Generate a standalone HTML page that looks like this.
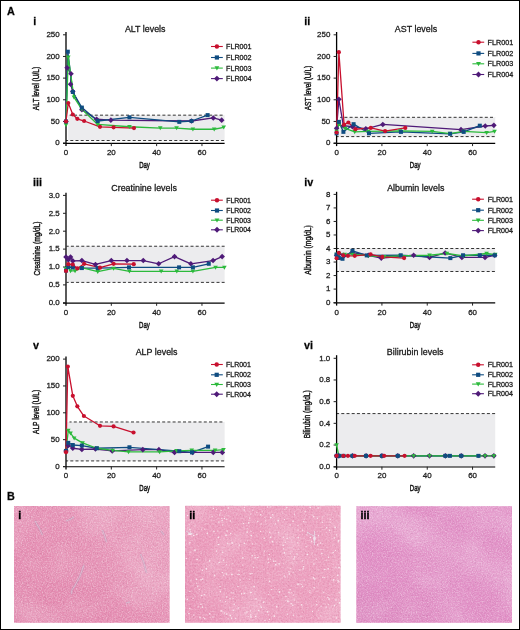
<!DOCTYPE html>
<html><head><meta charset="utf-8"><style>
html,body{margin:0;padding:0;background:#fff;overflow:hidden;width:520px;height:630px;}
svg{display:block;font-family:"Liberation Sans", sans-serif;will-change:transform;}
text{stroke:#222;stroke-width:0.28px;}
</style></head><body>
<svg width="520" height="630" viewBox="0 0 520 630">
<defs><filter id="sp0" x="0" y="0" width="1" height="1" color-interpolation-filters="sRGB"><feTurbulence type="fractalNoise" baseFrequency="0.8" numOctaves="2" seed="3" result="t"/><feColorMatrix in="t" type="matrix" values="0 0 0 0 1  0 0 0 0 1  0 0 0 0 1  2.2 0 0 0 -0.95"/><feGaussianBlur stdDeviation="0.45"/></filter><filter id="sp1" x="0" y="0" width="1" height="1" color-interpolation-filters="sRGB"><feTurbulence type="fractalNoise" baseFrequency="0.55" numOctaves="2" seed="5" result="t"/><feColorMatrix in="t" type="matrix" values="0 0 0 0 1  0 0 0 0 1  0 0 0 0 1  2.2 0 0 0 -0.95"/><feGaussianBlur stdDeviation="0.45"/></filter><filter id="sp2" x="0" y="0" width="1" height="1" color-interpolation-filters="sRGB"><feTurbulence type="fractalNoise" baseFrequency="0.8" numOctaves="2" seed="7" result="t"/><feColorMatrix in="t" type="matrix" values="0 0 0 0 1  0 0 0 0 1  0 0 0 0 1  2.2 0 0 0 -0.95"/><feGaussianBlur stdDeviation="0.45"/></filter><filter id="lf0" x="0" y="0" width="1" height="1" color-interpolation-filters="sRGB"><feTurbulence type="fractalNoise" baseFrequency="0.025" numOctaves="2" seed="11" result="t"/><feColorMatrix in="t" type="matrix" values="0 0 0 0 1  0 0 0 0 1  0 0 0 0 1  1.6 0 0 0 -0.65"/><feGaussianBlur stdDeviation="0.45"/></filter><filter id="lf1" x="0" y="0" width="1" height="1" color-interpolation-filters="sRGB"><feTurbulence type="fractalNoise" baseFrequency="0.03" numOctaves="2" seed="13" result="t"/><feColorMatrix in="t" type="matrix" values="0 0 0 0 1  0 0 0 0 1  0 0 0 0 1  1.4 0 0 0 -0.6"/><feGaussianBlur stdDeviation="0.45"/></filter><filter id="lf2" x="0" y="0" width="1" height="1" color-interpolation-filters="sRGB"><feTurbulence type="fractalNoise" baseFrequency="0.03" numOctaves="2" seed="17" result="t"/><feColorMatrix in="t" type="matrix" values="0 0 0 0 1  0 0 0 0 1  0 0 0 0 1  1.6 0 0 0 -0.65"/><feGaussianBlur stdDeviation="0.45"/></filter><filter id="dk0" x="0" y="0" width="1" height="1" color-interpolation-filters="sRGB"><feTurbulence type="fractalNoise" baseFrequency="0.6" numOctaves="2" seed="19" result="t"/><feColorMatrix in="t" type="matrix" values="0 0 0 0 0.62  0 0 0 0 0.28  0 0 0 0 0.42  1.8 0 0 0 -0.95"/><feGaussianBlur stdDeviation="0.45"/></filter><filter id="dk1" x="0" y="0" width="1" height="1" color-interpolation-filters="sRGB"><feTurbulence type="fractalNoise" baseFrequency="0.6" numOctaves="2" seed="23" result="t"/><feColorMatrix in="t" type="matrix" values="0 0 0 0 0.66  0 0 0 0 0.3  0 0 0 0 0.44  1.8 0 0 0 -0.95"/><feGaussianBlur stdDeviation="0.45"/></filter><filter id="dk2" x="0" y="0" width="1" height="1" color-interpolation-filters="sRGB"><feTurbulence type="fractalNoise" baseFrequency="0.6" numOctaves="2" seed="29" result="t"/><feColorMatrix in="t" type="matrix" values="0 0 0 0 0.62  0 0 0 0 0.3  0 0 0 0 0.5  1.8 0 0 0 -0.95"/><feGaussianBlur stdDeviation="0.45"/></filter><linearGradient id="gr0" x1="0" y1="1" x2="1" y2="0.2"><stop offset="0" stop-color="#c8487f" stop-opacity="0.16"/><stop offset="0.45" stop-color="#d0608f" stop-opacity="0.06"/><stop offset="0.75" stop-color="#fff" stop-opacity="0.08"/><stop offset="1" stop-color="#fff" stop-opacity="0.14"/></linearGradient><linearGradient id="gr1" x1="0" y1="0.6" x2="1" y2="0.4"><stop offset="0" stop-color="#c8487f" stop-opacity="0.08"/><stop offset="0.5" stop-color="#fff" stop-opacity="0.0"/><stop offset="1" stop-color="#fff" stop-opacity="0.06"/></linearGradient><linearGradient id="gr2" x1="0.2" y1="1" x2="0.8" y2="0"><stop offset="0" stop-color="#b8508f" stop-opacity="0.10"/><stop offset="0.45" stop-color="#fff" stop-opacity="0.02"/><stop offset="0.62" stop-color="#fff" stop-opacity="0.16"/><stop offset="0.8" stop-color="#fff" stop-opacity="0.04"/><stop offset="1" stop-color="#fff" stop-opacity="0.10"/></linearGradient></defs>
<rect x="0.5" y="0.5" width="519" height="629" fill="#fff" stroke="#000" stroke-width="1"/>
<text x="7" y="14.6" font-size="10.8" font-weight="bold" fill="#000">A</text>
<text x="7" y="499.8" font-size="10.8" font-weight="bold" fill="#000">B</text>
<rect x="68.20" y="115.16" width="156.42" height="25.34" fill="#ececee"/>
<line x1="69.70" y1="115.16" x2="224.62" y2="115.16" stroke="#333" stroke-width="1" stroke-dasharray="3,2.2" stroke-dashoffset="0.9"/>
<line x1="66.00" y1="140.50" x2="224.62" y2="140.50" stroke="#333" stroke-width="1" stroke-dasharray="3,2.2" stroke-dashoffset="0.9"/>
<line x1="66.00" y1="32.00" x2="66.00" y2="146.10" stroke="#000" stroke-width="1.3"/>
<line x1="63.00" y1="143.35" x2="224.62" y2="143.35" stroke="#000" stroke-width="1.15"/>
<line x1="63.00" y1="143.10" x2="66.00" y2="143.10" stroke="#222" stroke-width="1"/>
<text x="59.70" y="145.40" font-size="7.95" text-anchor="end" fill="#222">0</text>
<line x1="63.00" y1="121.44" x2="66.00" y2="121.44" stroke="#222" stroke-width="1"/>
<text x="59.70" y="123.74" font-size="7.95" text-anchor="end" fill="#222">50</text>
<line x1="63.00" y1="99.78" x2="66.00" y2="99.78" stroke="#222" stroke-width="1"/>
<text x="59.70" y="102.08" font-size="7.95" text-anchor="end" fill="#222">100</text>
<line x1="63.00" y1="78.12" x2="66.00" y2="78.12" stroke="#222" stroke-width="1"/>
<text x="59.70" y="80.42" font-size="7.95" text-anchor="end" fill="#222">150</text>
<line x1="63.00" y1="56.46" x2="66.00" y2="56.46" stroke="#222" stroke-width="1"/>
<text x="59.70" y="58.76" font-size="7.95" text-anchor="end" fill="#222">200</text>
<line x1="63.00" y1="34.80" x2="66.00" y2="34.80" stroke="#222" stroke-width="1"/>
<text x="59.70" y="37.10" font-size="7.95" text-anchor="end" fill="#222">250</text>
<text x="66.00" y="154.70" font-size="7.95" text-anchor="middle" fill="#222">0</text>
<line x1="111.32" y1="143.10" x2="111.32" y2="146.10" stroke="#222" stroke-width="1"/>
<text x="111.32" y="154.70" font-size="7.95" text-anchor="middle" fill="#222">20</text>
<line x1="156.64" y1="143.10" x2="156.64" y2="146.10" stroke="#222" stroke-width="1"/>
<text x="156.64" y="154.70" font-size="7.95" text-anchor="middle" fill="#222">40</text>
<line x1="201.96" y1="143.10" x2="201.96" y2="146.10" stroke="#222" stroke-width="1"/>
<text x="201.96" y="154.70" font-size="7.95" text-anchor="middle" fill="#222">60</text>
<text transform="translate(144.50,167.70) scale(0.63,1)" font-size="9.6" text-anchor="middle" fill="#111" style="stroke:#111;stroke-width:0.45px">Day</text>
<text transform="translate(39.30,88.50) rotate(-90) scale(0.7857000000000001,1)" font-size="8.4" text-anchor="middle" fill="#111" style="stroke:#111;stroke-width:0.4px">ALT level (U/L)</text>
<text x="145.20" y="31.60" font-size="8.9" text-anchor="middle" fill="#111">ALT levels</text>
<text x="33.20" y="24.60" font-size="10.8" font-weight="bold" fill="#000">i</text>
<polyline points="66.00,121.44 67.13,67.72 70.99,73.79 70.53,84.18 72.80,91.55 81.86,109.74 96.59,119.27 110.87,120.14 191.54,121.01 213.29,117.97 221.67,120.14" fill="none" stroke="#4f1a78" stroke-width="1.3" stroke-linejoin="round"/>
<polyline points="66.00,121.44 67.81,51.69 72.80,91.98 81.86,107.58 97.72,121.01 129.45,117.32 179.30,121.87 191.54,121.01 207.62,115.12" fill="none" stroke="#0f4c81" stroke-width="1.3" stroke-linejoin="round"/>
<polyline points="66.00,124.91 68.27,57.33 73.93,97.18 81.86,109.31 97.72,124.47 129.45,126.77 160.27,128.07 176.58,128.07 192.90,129.24 214.20,129.24 223.71,127.29" fill="none" stroke="#2cba3c" stroke-width="1.3" stroke-linejoin="round"/>
<polyline points="66.00,121.44 68.27,102.99 72.80,114.51 77.33,118.84 84.13,121.01 99.99,126.81 113.59,127.29 133.98,128.07" fill="none" stroke="#c8102e" stroke-width="1.3" stroke-linejoin="round"/>
<path d="M66.00,118.64L68.80,121.44L66.00,124.24L63.20,121.44Z" fill="#4f1a78"/>
<path d="M67.13,64.92L69.93,67.72L67.13,70.52L64.33,67.72Z" fill="#4f1a78"/>
<path d="M70.99,70.99L73.79,73.79L70.99,76.59L68.19,73.79Z" fill="#4f1a78"/>
<path d="M70.53,81.38L73.33,84.18L70.53,86.98L67.73,84.18Z" fill="#4f1a78"/>
<path d="M72.80,88.75L75.60,91.55L72.80,94.35L70.00,91.55Z" fill="#4f1a78"/>
<path d="M81.86,106.94L84.66,109.74L81.86,112.54L79.06,109.74Z" fill="#4f1a78"/>
<path d="M96.59,116.47L99.39,119.27L96.59,122.07L93.79,119.27Z" fill="#4f1a78"/>
<path d="M110.87,117.34L113.67,120.14L110.87,122.94L108.07,120.14Z" fill="#4f1a78"/>
<path d="M191.54,118.21L194.34,121.01L191.54,123.81L188.74,121.01Z" fill="#4f1a78"/>
<path d="M213.29,115.17L216.09,117.97L213.29,120.77L210.49,117.97Z" fill="#4f1a78"/>
<path d="M221.67,117.34L224.47,120.14L221.67,122.94L218.87,120.14Z" fill="#4f1a78"/>
<path d="M63.70,123.18L68.30,123.18L66.00,127.21Z" fill="#2cba3c"/>
<path d="M65.97,55.60L70.57,55.60L68.27,59.63Z" fill="#2cba3c"/>
<path d="M71.63,95.46L76.23,95.46L73.93,99.48Z" fill="#2cba3c"/>
<path d="M79.56,107.59L84.16,107.59L81.86,111.61Z" fill="#2cba3c"/>
<path d="M95.42,122.75L100.02,122.75L97.72,126.77Z" fill="#2cba3c"/>
<path d="M127.15,125.04L131.75,125.04L129.45,129.07Z" fill="#2cba3c"/>
<path d="M157.97,126.34L162.57,126.34L160.27,130.37Z" fill="#2cba3c"/>
<path d="M174.28,126.34L178.88,126.34L176.58,130.37Z" fill="#2cba3c"/>
<path d="M190.60,127.51L195.20,127.51L192.90,131.54Z" fill="#2cba3c"/>
<path d="M211.90,127.51L216.50,127.51L214.20,131.54Z" fill="#2cba3c"/>
<path d="M221.41,125.56L226.01,125.56L223.71,129.59Z" fill="#2cba3c"/>
<rect x="64.00" y="119.44" width="4.00" height="4.00" fill="#0f4c81"/>
<rect x="65.81" y="49.69" width="4.00" height="4.00" fill="#0f4c81"/>
<rect x="70.80" y="89.98" width="4.00" height="4.00" fill="#0f4c81"/>
<rect x="79.86" y="105.58" width="4.00" height="4.00" fill="#0f4c81"/>
<rect x="95.72" y="119.01" width="4.00" height="4.00" fill="#0f4c81"/>
<rect x="127.45" y="115.32" width="4.00" height="4.00" fill="#0f4c81"/>
<rect x="177.30" y="119.87" width="4.00" height="4.00" fill="#0f4c81"/>
<rect x="189.54" y="119.01" width="4.00" height="4.00" fill="#0f4c81"/>
<rect x="205.62" y="113.12" width="4.00" height="4.00" fill="#0f4c81"/>
<circle cx="66.00" cy="121.44" r="2.10" fill="#c8102e"/>
<circle cx="68.27" cy="102.99" r="2.10" fill="#c8102e"/>
<circle cx="72.80" cy="114.51" r="2.10" fill="#c8102e"/>
<circle cx="77.33" cy="118.84" r="2.10" fill="#c8102e"/>
<circle cx="84.13" cy="121.01" r="2.10" fill="#c8102e"/>
<circle cx="99.99" cy="126.81" r="2.10" fill="#c8102e"/>
<circle cx="113.59" cy="127.29" r="2.10" fill="#c8102e"/>
<circle cx="133.98" cy="128.07" r="2.10" fill="#c8102e"/>
<line x1="211.00" y1="46.50" x2="222.80" y2="46.50" stroke="#c8102e" stroke-width="1.1"/>
<circle cx="216.90" cy="46.50" r="2.21" fill="#c8102e"/>
<text x="226.00" y="49.05" font-size="7.2" fill="#111">FLR001</text>
<line x1="211.00" y1="57.50" x2="222.80" y2="57.50" stroke="#0f4c81" stroke-width="1.1"/>
<rect x="214.80" y="55.40" width="4.20" height="4.20" fill="#0f4c81"/>
<text x="226.00" y="60.05" font-size="7.2" fill="#111">FLR002</text>
<line x1="211.00" y1="68.10" x2="222.80" y2="68.10" stroke="#2cba3c" stroke-width="1.1"/>
<path d="M214.49,66.29L219.31,66.29L216.90,70.52Z" fill="#2cba3c"/>
<text x="226.00" y="70.65" font-size="7.2" fill="#111">FLR003</text>
<line x1="211.00" y1="78.60" x2="222.80" y2="78.60" stroke="#4f1a78" stroke-width="1.1"/>
<path d="M216.90,75.66L219.84,78.60L216.90,81.54L213.96,78.60Z" fill="#4f1a78"/>
<text x="226.00" y="81.15" font-size="7.2" fill="#111">FLR004</text>
<rect x="339.50" y="117.32" width="155.72" height="19.28" fill="#ececee"/>
<line x1="340.10" y1="117.32" x2="495.22" y2="117.32" stroke="#333" stroke-width="1" stroke-dasharray="3,2.2" stroke-dashoffset="0.9"/>
<line x1="336.60" y1="136.60" x2="495.22" y2="136.60" stroke="#333" stroke-width="1" stroke-dasharray="3,2.2" stroke-dashoffset="0.9"/>
<line x1="336.60" y1="32.00" x2="336.60" y2="146.10" stroke="#000" stroke-width="1.3"/>
<line x1="333.60" y1="143.35" x2="495.22" y2="143.35" stroke="#000" stroke-width="1.15"/>
<line x1="333.60" y1="143.10" x2="336.60" y2="143.10" stroke="#222" stroke-width="1"/>
<text x="330.30" y="145.40" font-size="7.95" text-anchor="end" fill="#222">0</text>
<line x1="333.60" y1="121.44" x2="336.60" y2="121.44" stroke="#222" stroke-width="1"/>
<text x="330.30" y="123.74" font-size="7.95" text-anchor="end" fill="#222">50</text>
<line x1="333.60" y1="99.78" x2="336.60" y2="99.78" stroke="#222" stroke-width="1"/>
<text x="330.30" y="102.08" font-size="7.95" text-anchor="end" fill="#222">100</text>
<line x1="333.60" y1="78.12" x2="336.60" y2="78.12" stroke="#222" stroke-width="1"/>
<text x="330.30" y="80.42" font-size="7.95" text-anchor="end" fill="#222">150</text>
<line x1="333.60" y1="56.46" x2="336.60" y2="56.46" stroke="#222" stroke-width="1"/>
<text x="330.30" y="58.76" font-size="7.95" text-anchor="end" fill="#222">200</text>
<line x1="333.60" y1="34.80" x2="336.60" y2="34.80" stroke="#222" stroke-width="1"/>
<text x="330.30" y="37.10" font-size="7.95" text-anchor="end" fill="#222">250</text>
<text x="336.60" y="154.70" font-size="7.95" text-anchor="middle" fill="#222">0</text>
<line x1="381.92" y1="143.10" x2="381.92" y2="146.10" stroke="#222" stroke-width="1"/>
<text x="381.92" y="154.70" font-size="7.95" text-anchor="middle" fill="#222">20</text>
<line x1="427.24" y1="143.10" x2="427.24" y2="146.10" stroke="#222" stroke-width="1"/>
<text x="427.24" y="154.70" font-size="7.95" text-anchor="middle" fill="#222">40</text>
<line x1="472.56" y1="143.10" x2="472.56" y2="146.10" stroke="#222" stroke-width="1"/>
<text x="472.56" y="154.70" font-size="7.95" text-anchor="middle" fill="#222">60</text>
<text transform="translate(415.20,167.70) scale(0.63,1)" font-size="9.6" text-anchor="middle" fill="#111" style="stroke:#111;stroke-width:0.45px">Day</text>
<text transform="translate(310.70,88.00) rotate(-90) scale(0.7857000000000001,1)" font-size="8.4" text-anchor="middle" fill="#111" style="stroke:#111;stroke-width:0.4px">AST level (U/L)</text>
<text x="416.00" y="31.60" font-size="8.9" text-anchor="middle" fill="#111">AST levels</text>
<text x="304.20" y="24.60" font-size="10.8" font-weight="bold" fill="#000">ii</text>
<polyline points="336.60,128.37 338.87,99.35 343.40,125.77 352.46,126.64 365.83,128.80 382.83,124.47 461.00,129.67 485.25,125.99 493.86,125.34" fill="none" stroke="#4f1a78" stroke-width="1.3" stroke-linejoin="round"/>
<polyline points="336.60,133.35 338.87,121.87 343.40,131.84 353.60,124.17 369.00,133.31 400.95,131.88 450.13,133.83 463.72,131.88 479.81,125.69" fill="none" stroke="#0f4c81" stroke-width="1.3" stroke-linejoin="round"/>
<polyline points="336.60,131.40 338.87,124.21 345.21,128.37 354.73,131.84 368.32,131.40 400.05,130.97 432.23,131.40 449.90,133.57 463.50,131.40 486.61,132.70 494.54,131.40" fill="none" stroke="#2cba3c" stroke-width="1.3" stroke-linejoin="round"/>
<polyline points="336.60,132.49 338.87,52.13 344.08,124.69 348.38,122.52 355.41,129.24 370.82,127.94 385.09,131.10 405.26,127.94" fill="none" stroke="#c8102e" stroke-width="1.3" stroke-linejoin="round"/>
<path d="M336.60,125.57L339.40,128.37L336.60,131.17L333.80,128.37Z" fill="#4f1a78"/>
<path d="M338.87,96.55L341.67,99.35L338.87,102.15L336.07,99.35Z" fill="#4f1a78"/>
<path d="M343.40,122.97L346.20,125.77L343.40,128.57L340.60,125.77Z" fill="#4f1a78"/>
<path d="M352.46,123.84L355.26,126.64L352.46,129.44L349.66,126.64Z" fill="#4f1a78"/>
<path d="M365.83,126.00L368.63,128.80L365.83,131.60L363.03,128.80Z" fill="#4f1a78"/>
<path d="M382.83,121.67L385.63,124.47L382.83,127.27L380.03,124.47Z" fill="#4f1a78"/>
<path d="M461.00,126.87L463.80,129.67L461.00,132.47L458.20,129.67Z" fill="#4f1a78"/>
<path d="M485.25,123.19L488.05,125.99L485.25,128.79L482.45,125.99Z" fill="#4f1a78"/>
<path d="M493.86,122.54L496.66,125.34L493.86,128.14L491.06,125.34Z" fill="#4f1a78"/>
<path d="M334.30,129.68L338.90,129.68L336.60,133.70Z" fill="#2cba3c"/>
<path d="M336.57,122.49L341.17,122.49L338.87,126.51Z" fill="#2cba3c"/>
<path d="M342.91,126.65L347.51,126.65L345.21,130.67Z" fill="#2cba3c"/>
<path d="M352.43,130.11L357.03,130.11L354.73,134.14Z" fill="#2cba3c"/>
<path d="M366.02,129.68L370.62,129.68L368.32,133.70Z" fill="#2cba3c"/>
<path d="M397.75,129.25L402.35,129.25L400.05,133.27Z" fill="#2cba3c"/>
<path d="M429.93,129.68L434.53,129.68L432.23,133.70Z" fill="#2cba3c"/>
<path d="M447.60,131.84L452.20,131.84L449.90,135.87Z" fill="#2cba3c"/>
<path d="M461.20,129.68L465.80,129.68L463.50,133.70Z" fill="#2cba3c"/>
<path d="M484.31,130.98L488.91,130.98L486.61,135.00Z" fill="#2cba3c"/>
<path d="M492.24,129.68L496.84,129.68L494.54,133.70Z" fill="#2cba3c"/>
<rect x="334.60" y="131.35" width="4.00" height="4.00" fill="#0f4c81"/>
<rect x="336.87" y="119.87" width="4.00" height="4.00" fill="#0f4c81"/>
<rect x="341.40" y="129.84" width="4.00" height="4.00" fill="#0f4c81"/>
<rect x="351.60" y="122.17" width="4.00" height="4.00" fill="#0f4c81"/>
<rect x="367.00" y="131.31" width="4.00" height="4.00" fill="#0f4c81"/>
<rect x="398.95" y="129.88" width="4.00" height="4.00" fill="#0f4c81"/>
<rect x="448.13" y="131.83" width="4.00" height="4.00" fill="#0f4c81"/>
<rect x="461.72" y="129.88" width="4.00" height="4.00" fill="#0f4c81"/>
<rect x="477.81" y="123.69" width="4.00" height="4.00" fill="#0f4c81"/>
<circle cx="336.60" cy="132.49" r="2.10" fill="#c8102e"/>
<circle cx="338.87" cy="52.13" r="2.10" fill="#c8102e"/>
<circle cx="344.08" cy="124.69" r="2.10" fill="#c8102e"/>
<circle cx="348.38" cy="122.52" r="2.10" fill="#c8102e"/>
<circle cx="355.41" cy="129.24" r="2.10" fill="#c8102e"/>
<circle cx="370.82" cy="127.94" r="2.10" fill="#c8102e"/>
<circle cx="385.09" cy="131.10" r="2.10" fill="#c8102e"/>
<circle cx="405.26" cy="127.94" r="2.10" fill="#c8102e"/>
<line x1="472.40" y1="42.20" x2="484.20" y2="42.20" stroke="#c8102e" stroke-width="1.1"/>
<circle cx="478.50" cy="42.20" r="2.21" fill="#c8102e"/>
<text x="487.60" y="44.75" font-size="7.2" fill="#111">FLR001</text>
<line x1="472.40" y1="53.40" x2="484.20" y2="53.40" stroke="#0f4c81" stroke-width="1.1"/>
<rect x="476.40" y="51.30" width="4.20" height="4.20" fill="#0f4c81"/>
<text x="487.60" y="55.95" font-size="7.2" fill="#111">FLR002</text>
<line x1="472.40" y1="63.80" x2="484.20" y2="63.80" stroke="#2cba3c" stroke-width="1.1"/>
<path d="M476.08,61.99L480.92,61.99L478.50,66.22Z" fill="#2cba3c"/>
<text x="487.60" y="66.35" font-size="7.2" fill="#111">FLR003</text>
<line x1="472.40" y1="74.50" x2="484.20" y2="74.50" stroke="#4f1a78" stroke-width="1.1"/>
<path d="M478.50,71.56L481.44,74.50L478.50,77.44L475.56,74.50Z" fill="#4f1a78"/>
<text x="487.60" y="77.05" font-size="7.2" fill="#111">FLR004</text>
<rect x="67.50" y="246.24" width="157.12" height="36.16" fill="#ececee"/>
<line x1="66.60" y1="246.24" x2="224.62" y2="246.24" stroke="#333" stroke-width="1" stroke-dasharray="3,2.2" stroke-dashoffset="0.9"/>
<line x1="66.60" y1="282.39" x2="224.62" y2="282.39" stroke="#333" stroke-width="1" stroke-dasharray="3,2.2" stroke-dashoffset="0.9"/>
<line x1="66.00" y1="192.70" x2="66.00" y2="305.80" stroke="#000" stroke-width="1.3"/>
<line x1="63.00" y1="303.05" x2="224.62" y2="303.05" stroke="#000" stroke-width="1.15"/>
<line x1="63.00" y1="302.80" x2="66.00" y2="302.80" stroke="#222" stroke-width="1"/>
<text x="59.70" y="305.10" font-size="7.95" text-anchor="end" fill="#222">0.0</text>
<line x1="63.00" y1="284.90" x2="66.00" y2="284.90" stroke="#222" stroke-width="1"/>
<text x="59.70" y="287.20" font-size="7.95" text-anchor="end" fill="#222">0.5</text>
<line x1="63.00" y1="267.00" x2="66.00" y2="267.00" stroke="#222" stroke-width="1"/>
<text x="59.70" y="269.30" font-size="7.95" text-anchor="end" fill="#222">1.0</text>
<line x1="63.00" y1="249.10" x2="66.00" y2="249.10" stroke="#222" stroke-width="1"/>
<text x="59.70" y="251.40" font-size="7.95" text-anchor="end" fill="#222">1.5</text>
<line x1="63.00" y1="231.20" x2="66.00" y2="231.20" stroke="#222" stroke-width="1"/>
<text x="59.70" y="233.50" font-size="7.95" text-anchor="end" fill="#222">2.0</text>
<line x1="63.00" y1="213.30" x2="66.00" y2="213.30" stroke="#222" stroke-width="1"/>
<text x="59.70" y="215.60" font-size="7.95" text-anchor="end" fill="#222">2.5</text>
<line x1="63.00" y1="195.40" x2="66.00" y2="195.40" stroke="#222" stroke-width="1"/>
<text x="59.70" y="197.70" font-size="7.95" text-anchor="end" fill="#222">3.0</text>
<text x="66.00" y="314.50" font-size="7.95" text-anchor="middle" fill="#222">0</text>
<line x1="111.32" y1="302.80" x2="111.32" y2="305.80" stroke="#222" stroke-width="1"/>
<text x="111.32" y="314.50" font-size="7.95" text-anchor="middle" fill="#222">20</text>
<line x1="156.64" y1="302.80" x2="156.64" y2="305.80" stroke="#222" stroke-width="1"/>
<text x="156.64" y="314.50" font-size="7.95" text-anchor="middle" fill="#222">40</text>
<line x1="201.96" y1="302.80" x2="201.96" y2="305.80" stroke="#222" stroke-width="1"/>
<text x="201.96" y="314.50" font-size="7.95" text-anchor="middle" fill="#222">60</text>
<text transform="translate(144.40,328.30) scale(0.63,1)" font-size="9.6" text-anchor="middle" fill="#111" style="stroke:#111;stroke-width:0.45px">Day</text>
<text transform="translate(39.50,248.50) rotate(-90) scale(0.776,1)" font-size="8.4" text-anchor="middle" fill="#111" style="stroke:#111;stroke-width:0.4px">Creatinine (mg/dL)</text>
<text x="144.10" y="191.30" font-size="8.9" text-anchor="middle" fill="#111">Creatinine levels</text>
<text x="33.10" y="186.10" font-size="10.8" font-weight="bold" fill="#000">iii</text>
<polyline points="66.00,256.98 68.27,259.84 70.53,256.98 72.80,260.91 81.86,260.56 95.46,264.49 111.32,260.56 126.96,260.56 143.27,260.56 158.68,263.78 174.54,256.62 190.86,263.78 213.06,260.56 222.13,256.62" fill="none" stroke="#4f1a78" stroke-width="1.3" stroke-linejoin="round"/>
<polyline points="66.00,270.58 68.27,267.00 72.80,267.36 81.86,268.07 97.72,268.07 128.99,267.36 179.07,267.36 192.90,267.36 208.76,263.78" fill="none" stroke="#0f4c81" stroke-width="1.3" stroke-linejoin="round"/>
<polyline points="66.00,268.79 68.27,267.00 70.53,270.94 75.06,270.94 81.86,267.72 97.72,271.65 113.59,268.43 129.45,271.30 161.17,271.30 176.81,271.30 192.90,271.30 215.56,267.36 224.39,267.36" fill="none" stroke="#2cba3c" stroke-width="1.3" stroke-linejoin="round"/>
<polyline points="66.00,270.94 68.27,264.14 72.80,264.49 77.33,268.43 84.13,263.78 99.99,267.72 113.59,263.78 133.75,264.14" fill="none" stroke="#c8102e" stroke-width="1.3" stroke-linejoin="round"/>
<path d="M66.00,254.18L68.80,256.98L66.00,259.78L63.20,256.98Z" fill="#4f1a78"/>
<path d="M68.27,257.04L71.07,259.84L68.27,262.64L65.47,259.84Z" fill="#4f1a78"/>
<path d="M70.53,254.18L73.33,256.98L70.53,259.78L67.73,256.98Z" fill="#4f1a78"/>
<path d="M72.80,258.11L75.60,260.91L72.80,263.71L70.00,260.91Z" fill="#4f1a78"/>
<path d="M81.86,257.76L84.66,260.56L81.86,263.36L79.06,260.56Z" fill="#4f1a78"/>
<path d="M95.46,261.69L98.26,264.49L95.46,267.29L92.66,264.49Z" fill="#4f1a78"/>
<path d="M111.32,257.76L114.12,260.56L111.32,263.36L108.52,260.56Z" fill="#4f1a78"/>
<path d="M126.96,257.76L129.76,260.56L126.96,263.36L124.16,260.56Z" fill="#4f1a78"/>
<path d="M143.27,257.76L146.07,260.56L143.27,263.36L140.47,260.56Z" fill="#4f1a78"/>
<path d="M158.68,260.98L161.48,263.78L158.68,266.58L155.88,263.78Z" fill="#4f1a78"/>
<path d="M174.54,253.82L177.34,256.62L174.54,259.42L171.74,256.62Z" fill="#4f1a78"/>
<path d="M190.86,260.98L193.66,263.78L190.86,266.58L188.06,263.78Z" fill="#4f1a78"/>
<path d="M213.06,257.76L215.86,260.56L213.06,263.36L210.26,260.56Z" fill="#4f1a78"/>
<path d="M222.13,253.82L224.93,256.62L222.13,259.42L219.33,256.62Z" fill="#4f1a78"/>
<path d="M63.70,267.06L68.30,267.06L66.00,271.09Z" fill="#2cba3c"/>
<path d="M65.97,265.27L70.57,265.27L68.27,269.30Z" fill="#2cba3c"/>
<path d="M68.23,269.21L72.83,269.21L70.53,273.24Z" fill="#2cba3c"/>
<path d="M72.76,269.21L77.36,269.21L75.06,273.24Z" fill="#2cba3c"/>
<path d="M79.56,265.99L84.16,265.99L81.86,270.02Z" fill="#2cba3c"/>
<path d="M95.42,269.93L100.02,269.93L97.72,273.95Z" fill="#2cba3c"/>
<path d="M111.29,266.71L115.89,266.71L113.59,270.73Z" fill="#2cba3c"/>
<path d="M127.15,269.57L131.75,269.57L129.45,273.60Z" fill="#2cba3c"/>
<path d="M158.87,269.57L163.47,269.57L161.17,273.60Z" fill="#2cba3c"/>
<path d="M174.51,269.57L179.11,269.57L176.81,273.60Z" fill="#2cba3c"/>
<path d="M190.60,269.57L195.20,269.57L192.90,273.60Z" fill="#2cba3c"/>
<path d="M213.26,265.63L217.86,265.63L215.56,269.66Z" fill="#2cba3c"/>
<path d="M222.09,265.63L226.69,265.63L224.39,269.66Z" fill="#2cba3c"/>
<rect x="64.00" y="268.58" width="4.00" height="4.00" fill="#0f4c81"/>
<rect x="66.27" y="265.00" width="4.00" height="4.00" fill="#0f4c81"/>
<rect x="70.80" y="265.36" width="4.00" height="4.00" fill="#0f4c81"/>
<rect x="79.86" y="266.07" width="4.00" height="4.00" fill="#0f4c81"/>
<rect x="95.72" y="266.07" width="4.00" height="4.00" fill="#0f4c81"/>
<rect x="126.99" y="265.36" width="4.00" height="4.00" fill="#0f4c81"/>
<rect x="177.07" y="265.36" width="4.00" height="4.00" fill="#0f4c81"/>
<rect x="190.90" y="265.36" width="4.00" height="4.00" fill="#0f4c81"/>
<rect x="206.76" y="261.78" width="4.00" height="4.00" fill="#0f4c81"/>
<circle cx="66.00" cy="270.94" r="2.10" fill="#c8102e"/>
<circle cx="68.27" cy="264.14" r="2.10" fill="#c8102e"/>
<circle cx="72.80" cy="264.49" r="2.10" fill="#c8102e"/>
<circle cx="77.33" cy="268.43" r="2.10" fill="#c8102e"/>
<circle cx="84.13" cy="263.78" r="2.10" fill="#c8102e"/>
<circle cx="99.99" cy="267.72" r="2.10" fill="#c8102e"/>
<circle cx="113.59" cy="263.78" r="2.10" fill="#c8102e"/>
<circle cx="133.75" cy="264.14" r="2.10" fill="#c8102e"/>
<line x1="211.00" y1="200.20" x2="222.80" y2="200.20" stroke="#c8102e" stroke-width="1.1"/>
<circle cx="217.00" cy="200.20" r="2.21" fill="#c8102e"/>
<text x="226.30" y="202.75" font-size="6.9" fill="#111">FLR001</text>
<line x1="211.00" y1="210.50" x2="222.80" y2="210.50" stroke="#0f4c81" stroke-width="1.1"/>
<rect x="214.90" y="208.40" width="4.20" height="4.20" fill="#0f4c81"/>
<text x="226.30" y="213.05" font-size="6.9" fill="#111">FLR002</text>
<line x1="211.00" y1="220.20" x2="222.80" y2="220.20" stroke="#2cba3c" stroke-width="1.1"/>
<path d="M214.59,218.39L219.41,218.39L217.00,222.61Z" fill="#2cba3c"/>
<text x="226.30" y="222.75" font-size="6.9" fill="#111">FLR003</text>
<line x1="211.00" y1="229.80" x2="222.80" y2="229.80" stroke="#4f1a78" stroke-width="1.1"/>
<path d="M217.00,226.86L219.94,229.80L217.00,232.74L214.06,229.80Z" fill="#4f1a78"/>
<text x="226.30" y="232.35" font-size="6.9" fill="#111">FLR004</text>
<rect x="338.90" y="248.50" width="156.32" height="22.99" fill="#ececee"/>
<line x1="336.80" y1="248.50" x2="495.22" y2="248.50" stroke="#333" stroke-width="1" stroke-dasharray="3,2.2" stroke-dashoffset="0.9"/>
<line x1="336.80" y1="271.49" x2="495.22" y2="271.49" stroke="#333" stroke-width="1" stroke-dasharray="3,2.2" stroke-dashoffset="0.9"/>
<line x1="336.60" y1="191.80" x2="336.60" y2="305.60" stroke="#000" stroke-width="1.3"/>
<line x1="333.60" y1="302.85" x2="495.22" y2="302.85" stroke="#000" stroke-width="1.15"/>
<line x1="333.60" y1="302.60" x2="336.60" y2="302.60" stroke="#222" stroke-width="1"/>
<text x="330.30" y="304.90" font-size="7.95" text-anchor="end" fill="#222">0</text>
<line x1="333.60" y1="289.08" x2="336.60" y2="289.08" stroke="#222" stroke-width="1"/>
<text x="330.30" y="291.38" font-size="7.95" text-anchor="end" fill="#222">1</text>
<line x1="333.60" y1="275.55" x2="336.60" y2="275.55" stroke="#222" stroke-width="1"/>
<text x="330.30" y="277.85" font-size="7.95" text-anchor="end" fill="#222">2</text>
<line x1="333.60" y1="262.03" x2="336.60" y2="262.03" stroke="#222" stroke-width="1"/>
<text x="330.30" y="264.33" font-size="7.95" text-anchor="end" fill="#222">3</text>
<line x1="333.60" y1="248.50" x2="336.60" y2="248.50" stroke="#222" stroke-width="1"/>
<text x="330.30" y="250.80" font-size="7.95" text-anchor="end" fill="#222">4</text>
<line x1="333.60" y1="234.98" x2="336.60" y2="234.98" stroke="#222" stroke-width="1"/>
<text x="330.30" y="237.28" font-size="7.95" text-anchor="end" fill="#222">5</text>
<line x1="333.60" y1="221.45" x2="336.60" y2="221.45" stroke="#222" stroke-width="1"/>
<text x="330.30" y="223.75" font-size="7.95" text-anchor="end" fill="#222">6</text>
<line x1="333.60" y1="207.93" x2="336.60" y2="207.93" stroke="#222" stroke-width="1"/>
<text x="330.30" y="210.23" font-size="7.95" text-anchor="end" fill="#222">7</text>
<line x1="333.60" y1="194.40" x2="336.60" y2="194.40" stroke="#222" stroke-width="1"/>
<text x="330.30" y="196.70" font-size="7.95" text-anchor="end" fill="#222">8</text>
<text x="336.60" y="314.50" font-size="7.95" text-anchor="middle" fill="#222">0</text>
<line x1="381.92" y1="302.60" x2="381.92" y2="305.60" stroke="#222" stroke-width="1"/>
<text x="381.92" y="314.50" font-size="7.95" text-anchor="middle" fill="#222">20</text>
<line x1="427.24" y1="302.60" x2="427.24" y2="305.60" stroke="#222" stroke-width="1"/>
<text x="427.24" y="314.50" font-size="7.95" text-anchor="middle" fill="#222">40</text>
<line x1="472.56" y1="302.60" x2="472.56" y2="305.60" stroke="#222" stroke-width="1"/>
<text x="472.56" y="314.50" font-size="7.95" text-anchor="middle" fill="#222">60</text>
<text transform="translate(415.20,328.30) scale(0.63,1)" font-size="9.6" text-anchor="middle" fill="#111" style="stroke:#111;stroke-width:0.45px">Day</text>
<text transform="translate(310.60,250.00) rotate(-90) scale(0.8050999999999999,1)" font-size="8.4" text-anchor="middle" fill="#111" style="stroke:#111;stroke-width:0.4px">Albumin (mg/dL)</text>
<text x="415.80" y="191.30" font-size="8.9" text-anchor="middle" fill="#111">Albumin levels</text>
<text x="304.20" y="186.10" font-size="10.8" font-weight="bold" fill="#000">iv</text>
<polyline points="336.60,255.26 338.87,253.91 343.40,255.26 352.46,252.56 368.32,255.26 381.24,258.10 413.64,255.26 429.51,257.43 445.14,252.96 461.91,257.43 485.02,257.43 494.77,255.26" fill="none" stroke="#4f1a78" stroke-width="1.3" stroke-linejoin="round"/>
<polyline points="336.60,254.59 338.87,257.97 342.49,258.78 352.46,250.80 366.74,255.40 400.73,255.26 450.35,258.10 463.04,255.26 479.81,255.26 494.77,255.26" fill="none" stroke="#0f4c81" stroke-width="1.3" stroke-linejoin="round"/>
<polyline points="336.60,254.59 338.87,253.91 344.53,254.59 352.46,253.91 368.32,255.94 384.19,256.62 400.05,255.94 429.51,255.26 446.95,253.50 463.50,255.94 486.61,253.50 495.22,254.59" fill="none" stroke="#2cba3c" stroke-width="1.3" stroke-linejoin="round"/>
<polyline points="336.60,258.24 338.87,252.83 343.40,255.40 347.93,255.80 354.73,255.80 370.59,254.32 382.37,256.89 404.13,258.10" fill="none" stroke="#c8102e" stroke-width="1.3" stroke-linejoin="round"/>
<path d="M336.60,252.46L339.40,255.26L336.60,258.06L333.80,255.26Z" fill="#4f1a78"/>
<path d="M338.87,251.11L341.67,253.91L338.87,256.71L336.07,253.91Z" fill="#4f1a78"/>
<path d="M343.40,252.46L346.20,255.26L343.40,258.06L340.60,255.26Z" fill="#4f1a78"/>
<path d="M352.46,249.76L355.26,252.56L352.46,255.36L349.66,252.56Z" fill="#4f1a78"/>
<path d="M368.32,252.46L371.12,255.26L368.32,258.06L365.52,255.26Z" fill="#4f1a78"/>
<path d="M381.24,255.30L384.04,258.10L381.24,260.90L378.44,258.10Z" fill="#4f1a78"/>
<path d="M413.64,252.46L416.44,255.26L413.64,258.06L410.84,255.26Z" fill="#4f1a78"/>
<path d="M429.51,254.63L432.31,257.43L429.51,260.23L426.71,257.43Z" fill="#4f1a78"/>
<path d="M445.14,250.16L447.94,252.96L445.14,255.76L442.34,252.96Z" fill="#4f1a78"/>
<path d="M461.91,254.63L464.71,257.43L461.91,260.23L459.11,257.43Z" fill="#4f1a78"/>
<path d="M485.02,254.63L487.82,257.43L485.02,260.23L482.22,257.43Z" fill="#4f1a78"/>
<path d="M494.77,252.46L497.57,255.26L494.77,258.06L491.97,255.26Z" fill="#4f1a78"/>
<path d="M334.30,252.86L338.90,252.86L336.60,256.89Z" fill="#2cba3c"/>
<path d="M336.57,252.19L341.17,252.19L338.87,256.21Z" fill="#2cba3c"/>
<path d="M342.23,252.86L346.83,252.86L344.53,256.89Z" fill="#2cba3c"/>
<path d="M350.16,252.19L354.76,252.19L352.46,256.21Z" fill="#2cba3c"/>
<path d="M366.02,254.21L370.62,254.21L368.32,258.24Z" fill="#2cba3c"/>
<path d="M381.89,254.89L386.49,254.89L384.19,258.92Z" fill="#2cba3c"/>
<path d="M397.75,254.21L402.35,254.21L400.05,258.24Z" fill="#2cba3c"/>
<path d="M427.21,253.54L431.81,253.54L429.51,257.56Z" fill="#2cba3c"/>
<path d="M444.65,251.78L449.25,251.78L446.95,255.80Z" fill="#2cba3c"/>
<path d="M461.20,254.21L465.80,254.21L463.50,258.24Z" fill="#2cba3c"/>
<path d="M484.31,251.78L488.91,251.78L486.61,255.80Z" fill="#2cba3c"/>
<path d="M492.92,252.86L497.52,252.86L495.22,256.89Z" fill="#2cba3c"/>
<rect x="334.60" y="252.59" width="4.00" height="4.00" fill="#0f4c81"/>
<rect x="336.87" y="255.97" width="4.00" height="4.00" fill="#0f4c81"/>
<rect x="340.49" y="256.78" width="4.00" height="4.00" fill="#0f4c81"/>
<rect x="350.46" y="248.80" width="4.00" height="4.00" fill="#0f4c81"/>
<rect x="364.74" y="253.40" width="4.00" height="4.00" fill="#0f4c81"/>
<rect x="398.73" y="253.26" width="4.00" height="4.00" fill="#0f4c81"/>
<rect x="448.35" y="256.10" width="4.00" height="4.00" fill="#0f4c81"/>
<rect x="461.04" y="253.26" width="4.00" height="4.00" fill="#0f4c81"/>
<rect x="477.81" y="253.26" width="4.00" height="4.00" fill="#0f4c81"/>
<rect x="492.77" y="253.26" width="4.00" height="4.00" fill="#0f4c81"/>
<circle cx="336.60" cy="258.24" r="2.10" fill="#c8102e"/>
<circle cx="338.87" cy="252.83" r="2.10" fill="#c8102e"/>
<circle cx="343.40" cy="255.40" r="2.10" fill="#c8102e"/>
<circle cx="347.93" cy="255.80" r="2.10" fill="#c8102e"/>
<circle cx="354.73" cy="255.80" r="2.10" fill="#c8102e"/>
<circle cx="370.59" cy="254.32" r="2.10" fill="#c8102e"/>
<circle cx="382.37" cy="256.89" r="2.10" fill="#c8102e"/>
<circle cx="404.13" cy="258.10" r="2.10" fill="#c8102e"/>
<line x1="472.10" y1="199.20" x2="483.90" y2="199.20" stroke="#c8102e" stroke-width="1.1"/>
<circle cx="478.20" cy="199.20" r="2.21" fill="#c8102e"/>
<text x="487.70" y="201.75" font-size="7.1" fill="#111">FLR001</text>
<line x1="472.10" y1="210.20" x2="483.90" y2="210.20" stroke="#0f4c81" stroke-width="1.1"/>
<rect x="476.10" y="208.10" width="4.20" height="4.20" fill="#0f4c81"/>
<text x="487.70" y="212.75" font-size="7.1" fill="#111">FLR002</text>
<line x1="472.10" y1="220.30" x2="483.90" y2="220.30" stroke="#2cba3c" stroke-width="1.1"/>
<path d="M475.78,218.49L480.62,218.49L478.20,222.72Z" fill="#2cba3c"/>
<text x="487.70" y="222.85" font-size="7.1" fill="#111">FLR003</text>
<line x1="472.10" y1="230.60" x2="483.90" y2="230.60" stroke="#4f1a78" stroke-width="1.1"/>
<path d="M478.20,227.66L481.14,230.60L478.20,233.54L475.26,230.60Z" fill="#4f1a78"/>
<text x="487.70" y="233.15" font-size="7.1" fill="#111">FLR004</text>
<rect x="67.10" y="421.98" width="157.52" height="38.93" fill="#ececee"/>
<line x1="69.50" y1="421.98" x2="224.62" y2="421.98" stroke="#333" stroke-width="1" stroke-dasharray="3,2.2" stroke-dashoffset="0.9"/>
<line x1="66.00" y1="460.92" x2="224.62" y2="460.92" stroke="#333" stroke-width="1" stroke-dasharray="3,2.2" stroke-dashoffset="0.9"/>
<line x1="66.00" y1="356.40" x2="66.00" y2="469.50" stroke="#000" stroke-width="1.3"/>
<line x1="63.00" y1="466.75" x2="224.62" y2="466.75" stroke="#000" stroke-width="1.15"/>
<line x1="63.00" y1="466.50" x2="66.00" y2="466.50" stroke="#222" stroke-width="1"/>
<text x="59.70" y="468.80" font-size="7.95" text-anchor="end" fill="#222">0</text>
<line x1="63.00" y1="439.65" x2="66.00" y2="439.65" stroke="#222" stroke-width="1"/>
<text x="59.70" y="441.95" font-size="7.95" text-anchor="end" fill="#222">50</text>
<line x1="63.00" y1="412.80" x2="66.00" y2="412.80" stroke="#222" stroke-width="1"/>
<text x="59.70" y="415.10" font-size="7.95" text-anchor="end" fill="#222">100</text>
<line x1="63.00" y1="385.95" x2="66.00" y2="385.95" stroke="#222" stroke-width="1"/>
<text x="59.70" y="388.25" font-size="7.95" text-anchor="end" fill="#222">150</text>
<line x1="63.00" y1="359.10" x2="66.00" y2="359.10" stroke="#222" stroke-width="1"/>
<text x="59.70" y="361.40" font-size="7.95" text-anchor="end" fill="#222">200</text>
<text x="66.00" y="478.00" font-size="7.95" text-anchor="middle" fill="#222">0</text>
<line x1="111.32" y1="466.50" x2="111.32" y2="469.50" stroke="#222" stroke-width="1"/>
<text x="111.32" y="478.00" font-size="7.95" text-anchor="middle" fill="#222">20</text>
<line x1="156.64" y1="466.50" x2="156.64" y2="469.50" stroke="#222" stroke-width="1"/>
<text x="156.64" y="478.00" font-size="7.95" text-anchor="middle" fill="#222">40</text>
<line x1="201.96" y1="466.50" x2="201.96" y2="469.50" stroke="#222" stroke-width="1"/>
<text x="201.96" y="478.00" font-size="7.95" text-anchor="middle" fill="#222">60</text>
<text transform="translate(144.70,491.10) scale(0.63,1)" font-size="9.6" text-anchor="middle" fill="#111" style="stroke:#111;stroke-width:0.45px">Day</text>
<text transform="translate(39.00,411.90) rotate(-90) scale(0.7857000000000001,1)" font-size="8.4" text-anchor="middle" fill="#111" style="stroke:#111;stroke-width:0.4px">ALP level (U/L)</text>
<text x="156.60" y="355.00" font-size="8.9" text-anchor="middle" fill="#111">ALP levels</text>
<text x="33.00" y="349.40" font-size="10.8" font-weight="bold" fill="#000">v</text>
<polyline points="66.00,450.93 68.27,445.56 72.80,448.24 81.86,449.42 95.46,448.99 112.23,450.93 142.82,449.64 158.91,449.64 174.54,452.38 192.67,452.38 213.29,452.38 222.35,452.38" fill="none" stroke="#4f1a78" stroke-width="1.3" stroke-linejoin="round"/>
<polyline points="66.00,450.93 68.27,442.87 72.80,445.02 81.86,445.56 96.82,448.24 129.45,447.28 179.30,451.20 191.99,452.38 208.08,446.63" fill="none" stroke="#0f4c81" stroke-width="1.3" stroke-linejoin="round"/>
<polyline points="66.00,450.93 68.27,430.52 70.53,433.21 74.16,438.15 82.54,442.93 96.82,448.24 112.68,450.39 128.54,451.89 159.59,451.89 176.58,450.82 191.76,450.28 215.10,450.28 223.49,449.64" fill="none" stroke="#2cba3c" stroke-width="1.3" stroke-linejoin="round"/>
<polyline points="66.00,452.22 67.81,366.62 72.80,395.78 77.33,406.36 83.90,416.02 99.99,425.80 113.59,426.39 133.53,432.51" fill="none" stroke="#c8102e" stroke-width="1.3" stroke-linejoin="round"/>
<path d="M66.00,448.13L68.80,450.93L66.00,453.73L63.20,450.93Z" fill="#4f1a78"/>
<path d="M68.27,442.76L71.07,445.56L68.27,448.36L65.47,445.56Z" fill="#4f1a78"/>
<path d="M72.80,445.44L75.60,448.24L72.80,451.04L70.00,448.24Z" fill="#4f1a78"/>
<path d="M81.86,446.62L84.66,449.42L81.86,452.22L79.06,449.42Z" fill="#4f1a78"/>
<path d="M95.46,446.19L98.26,448.99L95.46,451.79L92.66,448.99Z" fill="#4f1a78"/>
<path d="M112.23,448.13L115.03,450.93L112.23,453.73L109.43,450.93Z" fill="#4f1a78"/>
<path d="M142.82,446.84L145.62,449.64L142.82,452.44L140.02,449.64Z" fill="#4f1a78"/>
<path d="M158.91,446.84L161.71,449.64L158.91,452.44L156.11,449.64Z" fill="#4f1a78"/>
<path d="M174.54,449.58L177.34,452.38L174.54,455.18L171.74,452.38Z" fill="#4f1a78"/>
<path d="M192.67,449.58L195.47,452.38L192.67,455.18L189.87,452.38Z" fill="#4f1a78"/>
<path d="M213.29,449.58L216.09,452.38L213.29,455.18L210.49,452.38Z" fill="#4f1a78"/>
<path d="M222.35,449.58L225.15,452.38L222.35,455.18L219.55,452.38Z" fill="#4f1a78"/>
<path d="M63.70,449.20L68.30,449.20L66.00,453.23Z" fill="#2cba3c"/>
<path d="M65.97,428.80L70.57,428.80L68.27,432.82Z" fill="#2cba3c"/>
<path d="M68.23,431.48L72.83,431.48L70.53,435.51Z" fill="#2cba3c"/>
<path d="M71.86,436.42L76.46,436.42L74.16,440.45Z" fill="#2cba3c"/>
<path d="M80.24,441.20L84.84,441.20L82.54,445.23Z" fill="#2cba3c"/>
<path d="M94.52,446.52L99.12,446.52L96.82,450.54Z" fill="#2cba3c"/>
<path d="M110.38,448.66L114.98,448.66L112.68,452.69Z" fill="#2cba3c"/>
<path d="M126.24,450.17L130.84,450.17L128.54,454.19Z" fill="#2cba3c"/>
<path d="M157.29,450.17L161.89,450.17L159.59,454.19Z" fill="#2cba3c"/>
<path d="M174.28,449.09L178.88,449.09L176.58,453.12Z" fill="#2cba3c"/>
<path d="M189.46,448.56L194.06,448.56L191.76,452.58Z" fill="#2cba3c"/>
<path d="M212.80,448.56L217.40,448.56L215.10,452.58Z" fill="#2cba3c"/>
<path d="M221.19,447.91L225.79,447.91L223.49,451.94Z" fill="#2cba3c"/>
<rect x="64.00" y="448.93" width="4.00" height="4.00" fill="#0f4c81"/>
<rect x="66.27" y="440.87" width="4.00" height="4.00" fill="#0f4c81"/>
<rect x="70.80" y="443.02" width="4.00" height="4.00" fill="#0f4c81"/>
<rect x="79.86" y="443.56" width="4.00" height="4.00" fill="#0f4c81"/>
<rect x="94.82" y="446.24" width="4.00" height="4.00" fill="#0f4c81"/>
<rect x="127.45" y="445.28" width="4.00" height="4.00" fill="#0f4c81"/>
<rect x="177.30" y="449.20" width="4.00" height="4.00" fill="#0f4c81"/>
<rect x="189.99" y="450.38" width="4.00" height="4.00" fill="#0f4c81"/>
<rect x="206.08" y="444.63" width="4.00" height="4.00" fill="#0f4c81"/>
<circle cx="66.00" cy="452.22" r="2.10" fill="#c8102e"/>
<circle cx="67.81" cy="366.62" r="2.10" fill="#c8102e"/>
<circle cx="72.80" cy="395.78" r="2.10" fill="#c8102e"/>
<circle cx="77.33" cy="406.36" r="2.10" fill="#c8102e"/>
<circle cx="83.90" cy="416.02" r="2.10" fill="#c8102e"/>
<circle cx="99.99" cy="425.80" r="2.10" fill="#c8102e"/>
<circle cx="113.59" cy="426.39" r="2.10" fill="#c8102e"/>
<circle cx="133.53" cy="432.51" r="2.10" fill="#c8102e"/>
<line x1="211.00" y1="364.50" x2="222.80" y2="364.50" stroke="#c8102e" stroke-width="1.1"/>
<circle cx="216.70" cy="364.50" r="2.21" fill="#c8102e"/>
<text x="226.00" y="367.05" font-size="7.0" fill="#111">FLR001</text>
<line x1="211.00" y1="374.80" x2="222.80" y2="374.80" stroke="#0f4c81" stroke-width="1.1"/>
<rect x="214.60" y="372.70" width="4.20" height="4.20" fill="#0f4c81"/>
<text x="226.00" y="377.35" font-size="7.0" fill="#111">FLR002</text>
<line x1="211.00" y1="384.50" x2="222.80" y2="384.50" stroke="#2cba3c" stroke-width="1.1"/>
<path d="M214.28,382.69L219.11,382.69L216.70,386.92Z" fill="#2cba3c"/>
<text x="226.00" y="387.05" font-size="7.0" fill="#111">FLR003</text>
<line x1="211.00" y1="394.20" x2="222.80" y2="394.20" stroke="#4f1a78" stroke-width="1.1"/>
<path d="M216.70,391.26L219.64,394.20L216.70,397.14L213.76,394.20Z" fill="#4f1a78"/>
<text x="226.00" y="396.75" font-size="7.0" fill="#111">FLR004</text>
<rect x="337.60" y="413.58" width="157.62" height="53.12" fill="#ececee"/>
<line x1="337.00" y1="413.58" x2="495.22" y2="413.58" stroke="#333" stroke-width="1" stroke-dasharray="3,2.2" stroke-dashoffset="0.9"/>
<line x1="336.60" y1="355.20" x2="336.60" y2="469.70" stroke="#000" stroke-width="1.3"/>
<line x1="333.60" y1="466.95" x2="495.22" y2="466.95" stroke="#000" stroke-width="1.15"/>
<line x1="333.60" y1="466.70" x2="336.60" y2="466.70" stroke="#222" stroke-width="1"/>
<text x="330.30" y="469.00" font-size="7.95" text-anchor="end" fill="#222">0.0</text>
<line x1="333.60" y1="445.02" x2="336.60" y2="445.02" stroke="#222" stroke-width="1"/>
<text x="330.30" y="447.32" font-size="7.95" text-anchor="end" fill="#222">0.2</text>
<line x1="333.60" y1="423.34" x2="336.60" y2="423.34" stroke="#222" stroke-width="1"/>
<text x="330.30" y="425.64" font-size="7.95" text-anchor="end" fill="#222">0.4</text>
<line x1="333.60" y1="401.66" x2="336.60" y2="401.66" stroke="#222" stroke-width="1"/>
<text x="330.30" y="403.96" font-size="7.95" text-anchor="end" fill="#222">0.6</text>
<line x1="333.60" y1="379.98" x2="336.60" y2="379.98" stroke="#222" stroke-width="1"/>
<text x="330.30" y="382.28" font-size="7.95" text-anchor="end" fill="#222">0.8</text>
<line x1="333.60" y1="358.30" x2="336.60" y2="358.30" stroke="#222" stroke-width="1"/>
<text x="330.30" y="360.60" font-size="7.95" text-anchor="end" fill="#222">1.0</text>
<text x="336.60" y="478.00" font-size="7.95" text-anchor="middle" fill="#222">0</text>
<line x1="381.92" y1="466.70" x2="381.92" y2="469.70" stroke="#222" stroke-width="1"/>
<text x="381.92" y="478.00" font-size="7.95" text-anchor="middle" fill="#222">20</text>
<line x1="427.24" y1="466.70" x2="427.24" y2="469.70" stroke="#222" stroke-width="1"/>
<text x="427.24" y="478.00" font-size="7.95" text-anchor="middle" fill="#222">40</text>
<line x1="472.56" y1="466.70" x2="472.56" y2="469.70" stroke="#222" stroke-width="1"/>
<text x="472.56" y="478.00" font-size="7.95" text-anchor="middle" fill="#222">60</text>
<text transform="translate(415.20,491.10) scale(0.63,1)" font-size="9.6" text-anchor="middle" fill="#111" style="stroke:#111;stroke-width:0.45px">Day</text>
<text transform="translate(310.40,414.30) rotate(-90) scale(0.7857000000000001,1)" font-size="8.4" text-anchor="middle" fill="#111" style="stroke:#111;stroke-width:0.4px">Bilirubin (mg/dL)</text>
<text x="415.20" y="355.00" font-size="8.9" text-anchor="middle" fill="#111">Bilirubin levels</text>
<text x="304.10" y="349.30" font-size="10.8" font-weight="bold" fill="#000">vi</text>
<polyline points="336.60,455.86 338.87,455.86 352.46,455.86 366.06,455.86 381.92,455.86 397.78,455.86 413.64,455.86 429.51,455.86 445.37,455.86 461.23,455.86 485.02,455.86 493.86,455.86" fill="none" stroke="#4f1a78" stroke-width="1.3" stroke-linejoin="round"/>
<polyline points="336.60,455.86 338.87,455.86 343.40,455.86 352.46,455.86 366.06,455.86 381.92,455.86 397.78,455.86 445.37,455.86 449.90,455.86 461.23,455.86 478.45,455.86" fill="none" stroke="#0f4c81" stroke-width="1.3" stroke-linejoin="round"/>
<polyline points="336.60,445.02 338.87,455.86 343.40,455.86 352.46,455.86 366.06,455.86 381.92,455.86 397.78,455.86 413.64,455.86 429.51,455.86 445.37,455.86 461.23,455.86 478.45,455.86 485.02,455.86 493.86,455.86" fill="none" stroke="#2cba3c" stroke-width="1.3" stroke-linejoin="round"/>
<polyline points="336.60,455.86 343.40,455.86 347.93,455.86 354.73,455.86 370.59,455.86 384.19,455.86 404.58,455.86" fill="none" stroke="#c8102e" stroke-width="1.3" stroke-linejoin="round"/>
<path d="M336.60,453.06L339.40,455.86L336.60,458.66L333.80,455.86Z" fill="#4f1a78"/>
<path d="M338.87,453.06L341.67,455.86L338.87,458.66L336.07,455.86Z" fill="#4f1a78"/>
<path d="M352.46,453.06L355.26,455.86L352.46,458.66L349.66,455.86Z" fill="#4f1a78"/>
<path d="M366.06,453.06L368.86,455.86L366.06,458.66L363.26,455.86Z" fill="#4f1a78"/>
<path d="M381.92,453.06L384.72,455.86L381.92,458.66L379.12,455.86Z" fill="#4f1a78"/>
<path d="M397.78,453.06L400.58,455.86L397.78,458.66L394.98,455.86Z" fill="#4f1a78"/>
<path d="M413.64,453.06L416.44,455.86L413.64,458.66L410.84,455.86Z" fill="#4f1a78"/>
<path d="M429.51,453.06L432.31,455.86L429.51,458.66L426.71,455.86Z" fill="#4f1a78"/>
<path d="M445.37,453.06L448.17,455.86L445.37,458.66L442.57,455.86Z" fill="#4f1a78"/>
<path d="M461.23,453.06L464.03,455.86L461.23,458.66L458.43,455.86Z" fill="#4f1a78"/>
<path d="M485.02,453.06L487.82,455.86L485.02,458.66L482.22,455.86Z" fill="#4f1a78"/>
<path d="M493.86,453.06L496.66,455.86L493.86,458.66L491.06,455.86Z" fill="#4f1a78"/>
<path d="M334.30,443.29L338.90,443.29L336.60,447.32Z" fill="#2cba3c"/>
<path d="M336.57,454.13L341.17,454.13L338.87,458.16Z" fill="#2cba3c"/>
<path d="M341.10,454.13L345.70,454.13L343.40,458.16Z" fill="#2cba3c"/>
<path d="M350.16,454.13L354.76,454.13L352.46,458.16Z" fill="#2cba3c"/>
<path d="M363.76,454.13L368.36,454.13L366.06,458.16Z" fill="#2cba3c"/>
<path d="M379.62,454.13L384.22,454.13L381.92,458.16Z" fill="#2cba3c"/>
<path d="M395.48,454.13L400.08,454.13L397.78,458.16Z" fill="#2cba3c"/>
<path d="M411.34,454.13L415.94,454.13L413.64,458.16Z" fill="#2cba3c"/>
<path d="M427.21,454.13L431.81,454.13L429.51,458.16Z" fill="#2cba3c"/>
<path d="M443.07,454.13L447.67,454.13L445.37,458.16Z" fill="#2cba3c"/>
<path d="M458.93,454.13L463.53,454.13L461.23,458.16Z" fill="#2cba3c"/>
<path d="M476.15,454.13L480.75,454.13L478.45,458.16Z" fill="#2cba3c"/>
<path d="M482.72,454.13L487.32,454.13L485.02,458.16Z" fill="#2cba3c"/>
<path d="M491.56,454.13L496.16,454.13L493.86,458.16Z" fill="#2cba3c"/>
<rect x="334.60" y="453.86" width="4.00" height="4.00" fill="#0f4c81"/>
<rect x="336.87" y="453.86" width="4.00" height="4.00" fill="#0f4c81"/>
<rect x="341.40" y="453.86" width="4.00" height="4.00" fill="#0f4c81"/>
<rect x="350.46" y="453.86" width="4.00" height="4.00" fill="#0f4c81"/>
<rect x="364.06" y="453.86" width="4.00" height="4.00" fill="#0f4c81"/>
<rect x="379.92" y="453.86" width="4.00" height="4.00" fill="#0f4c81"/>
<rect x="395.78" y="453.86" width="4.00" height="4.00" fill="#0f4c81"/>
<rect x="443.37" y="453.86" width="4.00" height="4.00" fill="#0f4c81"/>
<rect x="447.90" y="453.86" width="4.00" height="4.00" fill="#0f4c81"/>
<rect x="459.23" y="453.86" width="4.00" height="4.00" fill="#0f4c81"/>
<rect x="476.45" y="453.86" width="4.00" height="4.00" fill="#0f4c81"/>
<circle cx="336.60" cy="455.86" r="2.10" fill="#c8102e"/>
<circle cx="343.40" cy="455.86" r="2.10" fill="#c8102e"/>
<circle cx="347.93" cy="455.86" r="2.10" fill="#c8102e"/>
<circle cx="354.73" cy="455.86" r="2.10" fill="#c8102e"/>
<circle cx="370.59" cy="455.86" r="2.10" fill="#c8102e"/>
<circle cx="384.19" cy="455.86" r="2.10" fill="#c8102e"/>
<circle cx="404.58" cy="455.86" r="2.10" fill="#c8102e"/>
<line x1="472.10" y1="364.80" x2="483.90" y2="364.80" stroke="#c8102e" stroke-width="1.1"/>
<circle cx="478.20" cy="364.80" r="2.21" fill="#c8102e"/>
<text x="487.70" y="367.35" font-size="7.1" fill="#111">FLR001</text>
<line x1="472.10" y1="374.80" x2="483.90" y2="374.80" stroke="#0f4c81" stroke-width="1.1"/>
<rect x="476.10" y="372.70" width="4.20" height="4.20" fill="#0f4c81"/>
<text x="487.70" y="377.35" font-size="7.1" fill="#111">FLR002</text>
<line x1="472.10" y1="384.10" x2="483.90" y2="384.10" stroke="#2cba3c" stroke-width="1.1"/>
<path d="M475.78,382.29L480.62,382.29L478.20,386.52Z" fill="#2cba3c"/>
<text x="487.70" y="386.65" font-size="7.1" fill="#111">FLR003</text>
<line x1="472.10" y1="393.70" x2="483.90" y2="393.70" stroke="#4f1a78" stroke-width="1.1"/>
<path d="M478.20,390.76L481.14,393.70L478.20,396.64L475.26,393.70Z" fill="#4f1a78"/>
<text x="487.70" y="396.25" font-size="7.1" fill="#111">FLR004</text>
<rect x="14.0" y="506.0" width="155.6" height="116.8" fill="#e691b5"/>
<rect x="14.0" y="506.0" width="155.6" height="116.8" fill="url(#gr0)"/>
<rect x="14.0" y="506.0" width="155.6" height="116.8" filter="url(#lf0)" opacity="0.25"/>
<rect x="14.0" y="506.0" width="155.6" height="116.8" filter="url(#dk0)" opacity="0.35"/>
<rect x="14.0" y="506.0" width="155.6" height="116.8" filter="url(#sp0)" opacity="0.4"/>
<rect x="185.0" y="505.8" width="155.6" height="117.0" fill="#ec9dbd"/>
<rect x="185.0" y="505.8" width="155.6" height="117.0" fill="url(#gr1)"/>
<rect x="185.0" y="505.8" width="155.6" height="117.0" filter="url(#lf1)" opacity="0.3"/>
<rect x="185.0" y="505.8" width="155.6" height="117.0" filter="url(#dk1)" opacity="0.35"/>
<rect x="185.0" y="505.8" width="155.6" height="117.0" filter="url(#sp1)" opacity="0.3"/>
<rect x="356.3" y="506.2" width="155.7" height="116.6" fill="#e08cc4"/>
<rect x="356.3" y="506.2" width="155.7" height="116.6" fill="url(#gr2)"/>
<rect x="356.3" y="506.2" width="155.7" height="116.6" filter="url(#lf2)" opacity="0.22"/>
<rect x="356.3" y="506.2" width="155.7" height="116.6" filter="url(#dk2)" opacity="0.35"/>
<rect x="356.3" y="506.2" width="155.7" height="116.6" filter="url(#sp2)" opacity="0.4"/>
<path d="M35,521 Q39,527 42.5,535" fill="none" stroke="#a98aae" stroke-width="1.8" opacity="0.5"/>
<path d="M35,521 Q39,527 42.5,535" fill="none" stroke="#f3dce8" stroke-width="0.7" opacity="0.8"/>
<path d="M66,521 Q70,520 74,517" fill="none" stroke="#a98aae" stroke-width="1.8" opacity="0.5"/>
<path d="M66,521 Q70,520 74,517" fill="none" stroke="#f3dce8" stroke-width="0.7" opacity="0.8"/>
<path d="M84,565 Q80,578 74,587 Q70,592 72,594" fill="none" stroke="#a98aae" stroke-width="1.8" opacity="0.5"/>
<path d="M84,565 Q80,578 74,587 Q70,592 72,594" fill="none" stroke="#f3dce8" stroke-width="0.7" opacity="0.8"/>
<path d="M102.5,530 Q105,536 106.5,542" fill="none" stroke="#a98aae" stroke-width="1.8" opacity="0.5"/>
<path d="M102.5,530 Q105,536 106.5,542" fill="none" stroke="#f3dce8" stroke-width="0.7" opacity="0.8"/>
<path d="M140.5,554 Q144.5,563 146.5,573" fill="none" stroke="#a98aae" stroke-width="1.8" opacity="0.5"/>
<path d="M140.5,554 Q144.5,563 146.5,573" fill="none" stroke="#f3dce8" stroke-width="0.7" opacity="0.8"/>
<path d="M161,531 L164,535" fill="none" stroke="#a98aae" stroke-width="1.8" opacity="0.5"/>
<path d="M161,531 L164,535" fill="none" stroke="#f3dce8" stroke-width="0.7" opacity="0.8"/>
<path d="M126,603 L130,602" fill="none" stroke="#a98aae" stroke-width="1.8" opacity="0.5"/>
<path d="M126,603 L130,602" fill="none" stroke="#f3dce8" stroke-width="0.7" opacity="0.8"/>
<g fill="#fcf4f8" opacity="0.85"><circle cx="284.2" cy="509.7" r="0.56"/><circle cx="220.3" cy="591.5" r="0.72"/><circle cx="323.0" cy="516.8" r="0.62"/><circle cx="190.6" cy="531.9" r="0.65"/><circle cx="190.1" cy="529.7" r="0.71"/><circle cx="269.7" cy="532.2" r="0.69"/><circle cx="310.3" cy="507.5" r="0.77"/><circle cx="293.2" cy="545.9" r="0.51"/><circle cx="333.0" cy="545.5" r="0.49"/><circle cx="200.9" cy="604.3" r="0.69"/><circle cx="310.0" cy="590.7" r="0.66"/><circle cx="335.5" cy="550.3" r="0.67"/><circle cx="313.4" cy="577.9" r="0.79"/><circle cx="274.7" cy="587.8" r="0.47"/><circle cx="221.0" cy="540.1" r="0.48"/><circle cx="221.8" cy="518.4" r="0.56"/><circle cx="283.6" cy="548.8" r="0.60"/><circle cx="218.2" cy="537.5" r="0.82"/><circle cx="285.5" cy="576.9" r="0.52"/><circle cx="298.0" cy="525.6" r="0.60"/><circle cx="338.0" cy="580.4" r="0.67"/><circle cx="291.2" cy="603.7" r="0.76"/><circle cx="221.2" cy="510.5" r="0.58"/><circle cx="227.1" cy="531.1" r="0.83"/><circle cx="320.6" cy="543.0" r="0.71"/><circle cx="246.8" cy="612.0" r="0.63"/><circle cx="226.7" cy="535.2" r="0.67"/><circle cx="226.4" cy="574.0" r="0.81"/><circle cx="247.3" cy="532.0" r="0.85"/><circle cx="264.3" cy="517.3" r="0.47"/><circle cx="202.8" cy="579.0" r="0.77"/><circle cx="250.8" cy="514.1" r="0.60"/><circle cx="339.0" cy="567.6" r="0.84"/><circle cx="318.2" cy="508.1" r="0.74"/><circle cx="290.7" cy="568.6" r="0.56"/><circle cx="284.5" cy="519.6" r="0.62"/><circle cx="255.7" cy="616.5" r="0.80"/><circle cx="226.5" cy="564.4" r="0.52"/><circle cx="326.2" cy="606.9" r="0.57"/><circle cx="284.1" cy="576.8" r="0.51"/><circle cx="303.1" cy="568.8" r="0.76"/><circle cx="267.5" cy="506.9" r="0.58"/><circle cx="189.0" cy="613.6" r="0.80"/><circle cx="313.7" cy="542.2" r="0.47"/><circle cx="320.9" cy="615.7" r="0.48"/><circle cx="260.6" cy="514.8" r="0.75"/><circle cx="303.6" cy="521.6" r="0.64"/><circle cx="270.4" cy="537.3" r="0.80"/><circle cx="251.0" cy="531.2" r="0.67"/><circle cx="298.1" cy="529.9" r="0.57"/><circle cx="338.9" cy="581.5" r="0.63"/><circle cx="265.5" cy="520.7" r="0.54"/><circle cx="237.9" cy="574.5" r="0.54"/><circle cx="219.8" cy="515.0" r="0.70"/><circle cx="221.2" cy="610.9" r="0.79"/><circle cx="196.9" cy="534.2" r="0.72"/><circle cx="218.9" cy="522.0" r="0.82"/><circle cx="273.7" cy="561.2" r="0.76"/><circle cx="310.0" cy="528.7" r="0.49"/><circle cx="252.2" cy="555.5" r="0.64"/><circle cx="298.0" cy="584.2" r="0.84"/><circle cx="201.1" cy="553.1" r="0.59"/><circle cx="318.4" cy="535.4" r="0.53"/><circle cx="254.9" cy="555.3" r="0.56"/><circle cx="224.4" cy="613.0" r="0.63"/><circle cx="318.3" cy="570.1" r="0.47"/><circle cx="339.5" cy="602.9" r="0.84"/><circle cx="328.3" cy="604.4" r="0.52"/><circle cx="260.6" cy="531.4" r="0.61"/><circle cx="195.0" cy="550.4" r="0.84"/><circle cx="226.7" cy="597.0" r="0.63"/><circle cx="251.0" cy="616.9" r="0.85"/><circle cx="271.4" cy="589.4" r="0.51"/><circle cx="231.6" cy="618.2" r="0.68"/><circle cx="269.3" cy="592.8" r="0.47"/><circle cx="275.7" cy="564.6" r="0.79"/><circle cx="210.2" cy="617.3" r="0.48"/><circle cx="214.5" cy="575.2" r="0.72"/><circle cx="222.1" cy="520.6" r="0.81"/><circle cx="223.8" cy="575.2" r="0.70"/><circle cx="250.4" cy="573.9" r="0.66"/><circle cx="329.6" cy="530.3" r="0.74"/><circle cx="222.7" cy="552.3" r="0.72"/><circle cx="232.1" cy="543.2" r="0.75"/><circle cx="197.1" cy="559.5" r="0.85"/><circle cx="339.0" cy="515.2" r="0.54"/><circle cx="226.7" cy="614.1" r="0.80"/><circle cx="321.1" cy="549.3" r="0.51"/><circle cx="314.1" cy="587.7" r="0.69"/><circle cx="337.6" cy="582.0" r="0.45"/><circle cx="311.5" cy="541.2" r="0.72"/><circle cx="330.2" cy="522.2" r="0.50"/><circle cx="202.4" cy="570.4" r="0.56"/><circle cx="278.9" cy="589.3" r="0.53"/><circle cx="283.4" cy="537.2" r="0.65"/><circle cx="325.1" cy="604.1" r="0.49"/><circle cx="251.1" cy="538.6" r="0.45"/><circle cx="304.4" cy="580.1" r="0.55"/><circle cx="299.9" cy="570.2" r="0.62"/><circle cx="187.5" cy="515.5" r="0.80"/><circle cx="324.8" cy="569.5" r="0.78"/><circle cx="275.5" cy="523.8" r="0.50"/><circle cx="233.3" cy="610.2" r="0.77"/><circle cx="318.2" cy="610.2" r="0.53"/><circle cx="224.3" cy="518.6" r="0.76"/><circle cx="321.8" cy="553.5" r="0.70"/><circle cx="209.7" cy="613.7" r="0.80"/><circle cx="335.9" cy="600.0" r="0.80"/><circle cx="189.8" cy="591.5" r="0.58"/><circle cx="329.0" cy="599.1" r="0.80"/><circle cx="310.5" cy="537.5" r="0.76"/><circle cx="202.6" cy="607.1" r="0.79"/><circle cx="220.2" cy="600.7" r="0.63"/><circle cx="232.9" cy="598.3" r="0.54"/><circle cx="189.6" cy="529.0" r="0.58"/><circle cx="318.8" cy="618.0" r="0.56"/><circle cx="284.5" cy="552.8" r="0.84"/><circle cx="268.4" cy="614.8" r="0.50"/><circle cx="335.1" cy="527.3" r="0.84"/><circle cx="226.8" cy="519.3" r="0.62"/><circle cx="297.9" cy="542.9" r="0.69"/><circle cx="264.6" cy="551.1" r="0.68"/><circle cx="225.1" cy="588.3" r="0.45"/><circle cx="328.2" cy="568.7" r="0.74"/><circle cx="300.0" cy="583.9" r="0.60"/><circle cx="196.7" cy="583.2" r="0.58"/><circle cx="234.2" cy="604.3" r="0.74"/><circle cx="232.1" cy="542.4" r="0.61"/><circle cx="247.8" cy="540.8" r="0.50"/><circle cx="250.6" cy="614.9" r="0.72"/><circle cx="324.7" cy="577.6" r="0.57"/><circle cx="270.2" cy="506.8" r="0.56"/><circle cx="252.0" cy="573.5" r="0.71"/><circle cx="257.4" cy="557.6" r="0.54"/><circle cx="258.7" cy="610.4" r="0.77"/><circle cx="212.1" cy="516.6" r="0.66"/><circle cx="283.2" cy="545.3" r="0.78"/><circle cx="301.4" cy="584.2" r="0.54"/><circle cx="216.6" cy="509.6" r="0.55"/><circle cx="259.0" cy="604.5" r="0.48"/><circle cx="249.7" cy="579.2" r="0.53"/><circle cx="293.0" cy="563.7" r="0.55"/><circle cx="286.8" cy="507.4" r="0.75"/><circle cx="304.3" cy="519.1" r="0.62"/><circle cx="213.0" cy="617.0" r="0.66"/><circle cx="193.7" cy="535.5" r="0.79"/><circle cx="256.1" cy="599.0" r="0.72"/><circle cx="337.7" cy="575.3" r="0.83"/><circle cx="322.9" cy="577.3" r="0.74"/><circle cx="263.5" cy="602.3" r="0.67"/><circle cx="323.8" cy="592.3" r="0.64"/><circle cx="225.8" cy="535.2" r="0.71"/><circle cx="303.6" cy="566.7" r="0.70"/><circle cx="228.2" cy="515.7" r="0.56"/><circle cx="227.7" cy="543.6" r="0.67"/><circle cx="207.3" cy="533.4" r="0.73"/><circle cx="294.5" cy="514.2" r="0.61"/><circle cx="269.3" cy="554.6" r="0.53"/><circle cx="250.5" cy="610.9" r="0.68"/><circle cx="292.8" cy="605.3" r="0.76"/><circle cx="244.4" cy="507.5" r="0.59"/><circle cx="301.7" cy="604.9" r="0.83"/><circle cx="250.4" cy="592.8" r="0.67"/><circle cx="278.7" cy="532.2" r="0.54"/><circle cx="252.9" cy="510.1" r="0.58"/><circle cx="290.3" cy="553.3" r="0.52"/><circle cx="257.8" cy="521.5" r="0.70"/><circle cx="190.1" cy="552.1" r="0.68"/><circle cx="190.2" cy="580.7" r="0.50"/><circle cx="256.9" cy="512.6" r="0.60"/><circle cx="218.5" cy="544.4" r="0.75"/><circle cx="244.2" cy="593.3" r="0.78"/><circle cx="224.7" cy="516.2" r="0.46"/><circle cx="268.9" cy="621.8" r="0.59"/><circle cx="285.9" cy="596.6" r="0.71"/><circle cx="301.9" cy="616.0" r="0.53"/><circle cx="189.1" cy="524.3" r="0.50"/><circle cx="288.8" cy="571.7" r="0.54"/><circle cx="293.4" cy="595.0" r="0.52"/><circle cx="279.3" cy="592.8" r="0.50"/><circle cx="311.8" cy="617.7" r="0.49"/><circle cx="189.9" cy="542.7" r="0.72"/><circle cx="333.2" cy="552.4" r="0.74"/><circle cx="197.7" cy="586.2" r="0.70"/><circle cx="201.7" cy="595.6" r="0.79"/><circle cx="278.2" cy="520.7" r="0.84"/><circle cx="306.2" cy="546.7" r="0.62"/><circle cx="242.9" cy="565.0" r="0.59"/><circle cx="316.5" cy="601.4" r="0.49"/><circle cx="333.6" cy="579.9" r="0.78"/><circle cx="294.6" cy="556.9" r="0.74"/><circle cx="334.3" cy="537.9" r="0.77"/><circle cx="268.7" cy="562.4" r="0.62"/><circle cx="298.3" cy="537.7" r="0.79"/><circle cx="313.6" cy="516.8" r="0.80"/><circle cx="223.5" cy="560.2" r="0.69"/><circle cx="244.2" cy="510.1" r="0.79"/><circle cx="213.9" cy="531.2" r="0.77"/><circle cx="238.3" cy="608.0" r="0.73"/><circle cx="228.4" cy="508.0" r="0.83"/><circle cx="199.2" cy="589.6" r="0.65"/><circle cx="302.5" cy="586.2" r="0.71"/><circle cx="261.4" cy="598.0" r="0.49"/><circle cx="220.0" cy="586.4" r="0.57"/><circle cx="275.3" cy="561.2" r="0.66"/><circle cx="251.4" cy="592.6" r="0.58"/><circle cx="294.0" cy="538.0" r="0.55"/><circle cx="204.5" cy="528.9" r="0.50"/><circle cx="268.3" cy="594.5" r="0.52"/><circle cx="219.2" cy="562.5" r="0.74"/><circle cx="336.0" cy="567.1" r="0.56"/><circle cx="201.4" cy="529.1" r="0.54"/><circle cx="213.6" cy="508.4" r="0.66"/><circle cx="228.1" cy="618.8" r="0.67"/><circle cx="293.1" cy="521.3" r="0.80"/><circle cx="261.4" cy="607.2" r="0.68"/><circle cx="258.1" cy="557.5" r="0.52"/><circle cx="193.9" cy="615.0" r="0.64"/><circle cx="312.3" cy="552.9" r="0.48"/><circle cx="282.7" cy="513.0" r="0.51"/><circle cx="272.5" cy="541.7" r="0.85"/><circle cx="204.2" cy="594.7" r="0.69"/><circle cx="307.5" cy="532.8" r="0.66"/><circle cx="255.2" cy="557.7" r="0.79"/><circle cx="338.1" cy="541.9" r="0.70"/><circle cx="279.6" cy="591.9" r="0.83"/><circle cx="217.9" cy="531.1" r="0.71"/><circle cx="210.1" cy="526.8" r="0.48"/><circle cx="186.4" cy="558.6" r="0.69"/><circle cx="230.7" cy="533.4" r="0.73"/><circle cx="294.0" cy="559.0" r="0.72"/><circle cx="327.9" cy="597.4" r="0.70"/><circle cx="287.6" cy="614.2" r="0.62"/><circle cx="269.6" cy="581.3" r="0.81"/><circle cx="313.0" cy="515.0" r="0.52"/><circle cx="233.2" cy="592.9" r="0.68"/><circle cx="230.3" cy="521.1" r="0.73"/><circle cx="293.5" cy="615.2" r="0.65"/><circle cx="261.8" cy="516.1" r="0.47"/><circle cx="252.4" cy="543.9" r="0.55"/><circle cx="200.0" cy="617.4" r="0.78"/><circle cx="274.4" cy="616.1" r="0.85"/><circle cx="289.3" cy="537.8" r="0.47"/><circle cx="302.2" cy="560.9" r="0.71"/><circle cx="326.7" cy="527.7" r="0.68"/><circle cx="283.5" cy="563.3" r="0.49"/><circle cx="239.4" cy="545.1" r="0.72"/><circle cx="317.7" cy="544.7" r="0.73"/><circle cx="230.3" cy="615.5" r="0.78"/><circle cx="270.5" cy="559.1" r="0.58"/><circle cx="235.7" cy="618.4" r="0.61"/><circle cx="265.0" cy="620.4" r="0.71"/><circle cx="269.3" cy="554.3" r="0.53"/><circle cx="241.6" cy="593.8" r="0.70"/><circle cx="302.7" cy="530.2" r="0.67"/><circle cx="328.5" cy="557.2" r="0.73"/><circle cx="204.7" cy="618.7" r="0.69"/><circle cx="222.8" cy="525.0" r="0.67"/><circle cx="270.8" cy="517.5" r="0.85"/><circle cx="326.2" cy="559.9" r="0.50"/><circle cx="313.8" cy="564.1" r="0.74"/><circle cx="264.2" cy="538.2" r="0.78"/><circle cx="336.6" cy="534.8" r="0.67"/><circle cx="244.9" cy="612.8" r="0.65"/><circle cx="321.1" cy="606.2" r="0.56"/><circle cx="307.3" cy="554.5" r="0.82"/><circle cx="264.0" cy="601.2" r="0.56"/><circle cx="231.9" cy="574.3" r="0.85"/><circle cx="261.2" cy="523.9" r="0.67"/><circle cx="239.0" cy="570.3" r="0.67"/><circle cx="255.9" cy="543.8" r="0.53"/><circle cx="293.1" cy="572.6" r="0.54"/><circle cx="305.1" cy="511.8" r="0.75"/><circle cx="294.3" cy="600.1" r="0.60"/><circle cx="287.9" cy="601.2" r="0.84"/><circle cx="262.1" cy="511.1" r="0.65"/><circle cx="276.7" cy="606.8" r="0.80"/><circle cx="253.6" cy="567.3" r="0.63"/><circle cx="297.0" cy="553.9" r="0.71"/><circle cx="209.7" cy="560.8" r="0.84"/><circle cx="238.0" cy="586.5" r="0.71"/><circle cx="316.8" cy="604.8" r="0.79"/><circle cx="244.4" cy="543.2" r="0.74"/><circle cx="302.6" cy="607.1" r="0.46"/><circle cx="196.5" cy="579.4" r="0.82"/><circle cx="339.2" cy="592.7" r="0.62"/><circle cx="201.1" cy="579.7" r="0.80"/><circle cx="254.1" cy="586.6" r="0.81"/><circle cx="193.1" cy="598.4" r="0.57"/><circle cx="243.6" cy="523.5" r="0.66"/><circle cx="272.9" cy="597.9" r="0.52"/><circle cx="198.1" cy="606.9" r="0.70"/><circle cx="223.0" cy="611.8" r="0.51"/><circle cx="256.8" cy="536.0" r="0.55"/><circle cx="187.4" cy="599.3" r="0.81"/><circle cx="290.1" cy="525.0" r="0.63"/><circle cx="239.1" cy="574.4" r="0.71"/><circle cx="251.2" cy="535.6" r="0.79"/><circle cx="216.6" cy="551.0" r="0.64"/><circle cx="222.4" cy="572.6" r="0.68"/><circle cx="338.5" cy="540.8" r="0.84"/><circle cx="287.1" cy="538.4" r="0.68"/><circle cx="291.3" cy="592.4" r="0.47"/><circle cx="279.1" cy="563.9" r="0.81"/><circle cx="230.0" cy="598.7" r="0.69"/><circle cx="240.1" cy="580.0" r="0.70"/><circle cx="290.1" cy="589.7" r="0.71"/><circle cx="314.8" cy="579.0" r="0.81"/><circle cx="285.3" cy="542.3" r="0.63"/><circle cx="275.0" cy="591.0" r="0.49"/><circle cx="231.3" cy="592.8" r="0.52"/><circle cx="206.3" cy="568.8" r="0.84"/><circle cx="267.5" cy="611.9" r="0.78"/><circle cx="225.5" cy="601.6" r="0.64"/><circle cx="309.9" cy="592.7" r="0.59"/><circle cx="203.7" cy="617.5" r="0.51"/><circle cx="334.5" cy="605.7" r="0.74"/><circle cx="336.5" cy="618.0" r="0.77"/><circle cx="242.2" cy="597.7" r="0.46"/><circle cx="268.4" cy="559.1" r="0.72"/><circle cx="289.3" cy="574.0" r="0.78"/><circle cx="330.4" cy="519.3" r="0.54"/><circle cx="189.8" cy="608.5" r="0.67"/><circle cx="326.6" cy="532.3" r="0.48"/><circle cx="312.5" cy="611.4" r="0.57"/><circle cx="248.7" cy="522.9" r="0.83"/><circle cx="232.8" cy="563.5" r="0.49"/><circle cx="322.3" cy="522.4" r="0.63"/><circle cx="289.0" cy="592.3" r="0.83"/><circle cx="250.4" cy="592.2" r="0.51"/><circle cx="249.7" cy="518.2" r="0.65"/><circle cx="248.7" cy="616.2" r="0.46"/><circle cx="242.9" cy="557.8" r="0.83"/><circle cx="317.4" cy="518.2" r="0.72"/><circle cx="269.6" cy="619.3" r="0.59"/><circle cx="247.2" cy="528.6" r="0.50"/><circle cx="316.3" cy="559.1" r="0.72"/><circle cx="284.6" cy="575.5" r="0.46"/><circle cx="306.9" cy="534.8" r="0.50"/><circle cx="272.7" cy="514.7" r="0.76"/></g>
<ellipse cx="314.5" cy="538.5" rx="1.3" ry="2.2" fill="#fbf1f6"/><ellipse cx="190" cy="534" rx="2.2" ry="1.1" fill="#fbf1f6"/>
<path d="M314.5,531 L314.5,545" fill="none" stroke="#b896b6" stroke-width="1.6" opacity="0.35"/>
<path d="M314.5,531 L314.5,545" fill="none" stroke="#f8eef3" stroke-width="0.8" opacity="0.75"/>
<path d="M307,532 Q311,535 314.5,536" fill="none" stroke="#b896b6" stroke-width="1.6" opacity="0.35"/>
<path d="M307,532 Q311,535 314.5,536" fill="none" stroke="#f8eef3" stroke-width="0.8" opacity="0.75"/>
<path d="M186,531 Q189,533 193,534" fill="none" stroke="#b896b6" stroke-width="1.6" opacity="0.35"/>
<path d="M186,531 Q189,533 193,534" fill="none" stroke="#f8eef3" stroke-width="0.8" opacity="0.75"/>
<text x="18.3" y="518.8" font-size="10.8" font-weight="bold" fill="#000" style="stroke:#000;stroke-width:0.35px">i</text>
<text x="189.3" y="518.6" font-size="10.8" font-weight="bold" fill="#000" style="stroke:#000;stroke-width:0.35px">ii</text>
<text x="360.6" y="519.0" font-size="10.8" font-weight="bold" fill="#000" style="stroke:#000;stroke-width:0.35px">iii</text>
</svg>
</body></html>
